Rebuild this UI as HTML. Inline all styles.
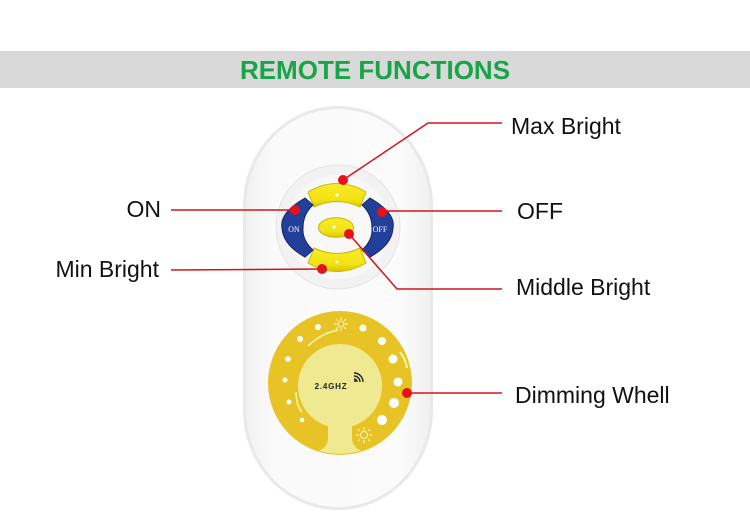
<!DOCTYPE html>
<html>
<head>
<meta charset="utf-8">
<style>
html,body{margin:0;padding:0;background:#fff;}
body{width:750px;height:527px;overflow:hidden;position:relative;}
svg{position:absolute;left:0;top:0;}
</style>
</head>
<body>
<svg width="750" height="527" viewBox="0 0 750 527" xmlns="http://www.w3.org/2000/svg">
  <defs>
    <linearGradient id="body" x1="0" x2="1" y1="0" y2="0">
      <stop offset="0" stop-color="#f1f1f1"/>
      <stop offset="0.15" stop-color="#fafafa"/>
      <stop offset="0.85" stop-color="#fbfbfb"/>
      <stop offset="1" stop-color="#f0f0f0"/>
    </linearGradient>
    <linearGradient id="yel" x1="0" x2="0" y1="0" y2="1">
      <stop offset="0" stop-color="#f8ec2a"/>
      <stop offset="0.7" stop-color="#f2e214"/>
      <stop offset="1" stop-color="#d9c400"/>
    </linearGradient>
    <clipPath id="wheelclip"><circle cx="340" cy="383" r="71"/></clipPath>
  </defs>

  <!-- banner -->
  <rect x="0" y="51" width="750" height="37" fill="#d9d9d9"/>
  <text x="375" y="79" text-anchor="middle" font-family="Liberation Sans, Arial, sans-serif" font-weight="bold" font-size="26" fill="#17a548">REMOTE FUNCTIONS</text>

  <!-- remote body -->
  <rect x="243" y="106" width="190" height="404" rx="95" ry="100" fill="#e9e9e9"/>
  <rect x="246" y="109" width="184" height="398" rx="92" ry="97" fill="url(#body)"/>

  <!-- button cluster base -->
  <circle cx="338" cy="227" r="62" fill="#f2f2f2" stroke="#e4e4e4" stroke-width="1"/>
  <circle cx="338" cy="227" r="52" fill="#f8f8f8"/>

  <!-- top yellow -->
  <path d="M308,192 Q337,175 366,192 L360,207 Q337,196 314,207 Z" fill="url(#yel)" stroke="#c9b600" stroke-width="1"/>
  <circle cx="337" cy="195" r="1.6" fill="#fff"/>
  <!-- middle yellow -->
  <ellipse cx="336" cy="227.5" rx="17.5" ry="9.8" fill="url(#yel)" stroke="#c9b600" stroke-width="1"/>
  <circle cx="334" cy="227" r="1.6" fill="#fff"/>
  <!-- bottom yellow -->
  <path d="M314,248 Q337,259 360,248 L366,263 Q337,280 308,263 Z" fill="url(#yel)" stroke="#c9b600" stroke-width="1"/>
  <circle cx="337" cy="262" r="1.4" fill="#fff"/>

  <!-- ON -->
  <path d="M305,198 Q279,213 282,228 Q283,245 305,257 L313,250 Q302,240 303,228 Q303,214 313,205 Z" fill="#22409b" stroke="#15265e" stroke-width="1"/>
  <text x="294" y="232" text-anchor="middle" font-family="Liberation Serif, serif" font-size="8" fill="#fff">ON</text>
  <!-- OFF -->
  <path d="M370,198 Q396,213 393,228 Q392,245 370,257 L362,250 Q373,240 372,228 Q372,214 362,205 Z" fill="#22409b" stroke="#15265e" stroke-width="1"/>
  <text x="380" y="232" text-anchor="middle" font-family="Liberation Serif, serif" font-size="8" fill="#fff">OFF</text>

  <!-- wheel -->
  <circle cx="340" cy="383" r="72" fill="#e8c325"/>
  <g clip-path="url(#wheelclip)">
    <circle cx="340" cy="386" r="42" fill="#efea92"/>
    <path d="M328,420 L352,420 L352,438 Q352,448 364,452 L364,460 L316,460 L316,452 Q328,448 328,438 Z" fill="#efea92"/>
  </g>
  <g fill="#ffffff">
    <circle cx="318" cy="327" r="3"/>
    <circle cx="363" cy="328" r="3.5"/>
    <circle cx="300" cy="339" r="3"/>
    <circle cx="382" cy="341" r="4"/>
    <circle cx="288" cy="359" r="2.8"/>
    <circle cx="393" cy="359" r="4.5"/>
    <circle cx="285" cy="380" r="2.5"/>
    <circle cx="398" cy="382" r="4.5"/>
    <circle cx="289" cy="402" r="2.5"/>
    <circle cx="394" cy="403" r="5"/>
    <circle cx="302" cy="420" r="2.3"/>
    <circle cx="382" cy="420" r="5"/>
  </g>
  <!-- sun icons -->
  <g stroke="#fff8c0" stroke-width="1" fill="none">
    <circle cx="341" cy="324" r="3"/>
    <path d="M341,317v3M341,328v3M334,324h3M345,324h3M336,319l2,2M344,327l2,2M346,319l-2,2M336,329l2,-2"/>
    <circle cx="364" cy="435" r="3.5"/>
    <path d="M364,427v3.5M364,440v3.5M356,435h3.5M369,435h3.5M358,429l2,2M368,439l2,2M370,429l-2,2M358,441l2,-2"/>
  </g>
  <path d="M308,346 Q320,334 338,330" stroke="#fff6b0" stroke-width="1.5" fill="none"/>
  <path d="M296,392 Q296,405 302,412" stroke="#fff6b0" stroke-width="1.5" fill="none"/>
  <path d="M400,352 Q406,360 407,368" stroke="#fff6b0" stroke-width="2" fill="none"/>
  <text x="331" y="389" text-anchor="middle" font-family="Liberation Sans, Arial, sans-serif" font-weight="bold" font-size="8" letter-spacing="0.8" fill="#222">2.4GHZ</text>
  <g stroke="#222" stroke-width="1.4" fill="none">
    <path d="M354,379 a3,3 0 0 1 3,3"/>
    <path d="M354,376 a6,6 0 0 1 6,6"/>
    <path d="M354,373 a9,9 0 0 1 9,9"/>
  </g>
  <circle cx="355" cy="381" r="1" fill="#222"/>

  <!-- callout lines -->
  <g stroke="#d4141c" stroke-width="1.5" fill="none">
    <polyline points="343,180 428,123 502,123"/>
    <polyline points="171,210 295,210"/>
    <polyline points="382,211 502,211"/>
    <polyline points="171,270 322,269"/>
    <polyline points="349,234 397,289 502,289"/>
    <polyline points="407,393 502,393"/>
  </g>
  <g fill="#e8101a">
    <circle cx="343" cy="180" r="5"/>
    <circle cx="295" cy="210" r="5"/>
    <circle cx="382" cy="212" r="5"/>
    <circle cx="322" cy="269" r="5"/>
    <circle cx="349" cy="234" r="5"/>
    <circle cx="407" cy="393" r="5"/>
  </g>

  <!-- labels -->
  <g font-family="Liberation Sans, Arial, sans-serif" font-size="23" fill="#111">
    <text x="511" y="134">Max Bright</text>
    <text x="517" y="219">OFF</text>
    <text x="516" y="295">Middle Bright</text>
    <text x="515" y="403">Dimming Whell</text>
    <text x="161" y="217" text-anchor="end">ON</text>
    <text x="159" y="277" text-anchor="end">Min Bright</text>
  </g>
</svg>
</body>
</html>
